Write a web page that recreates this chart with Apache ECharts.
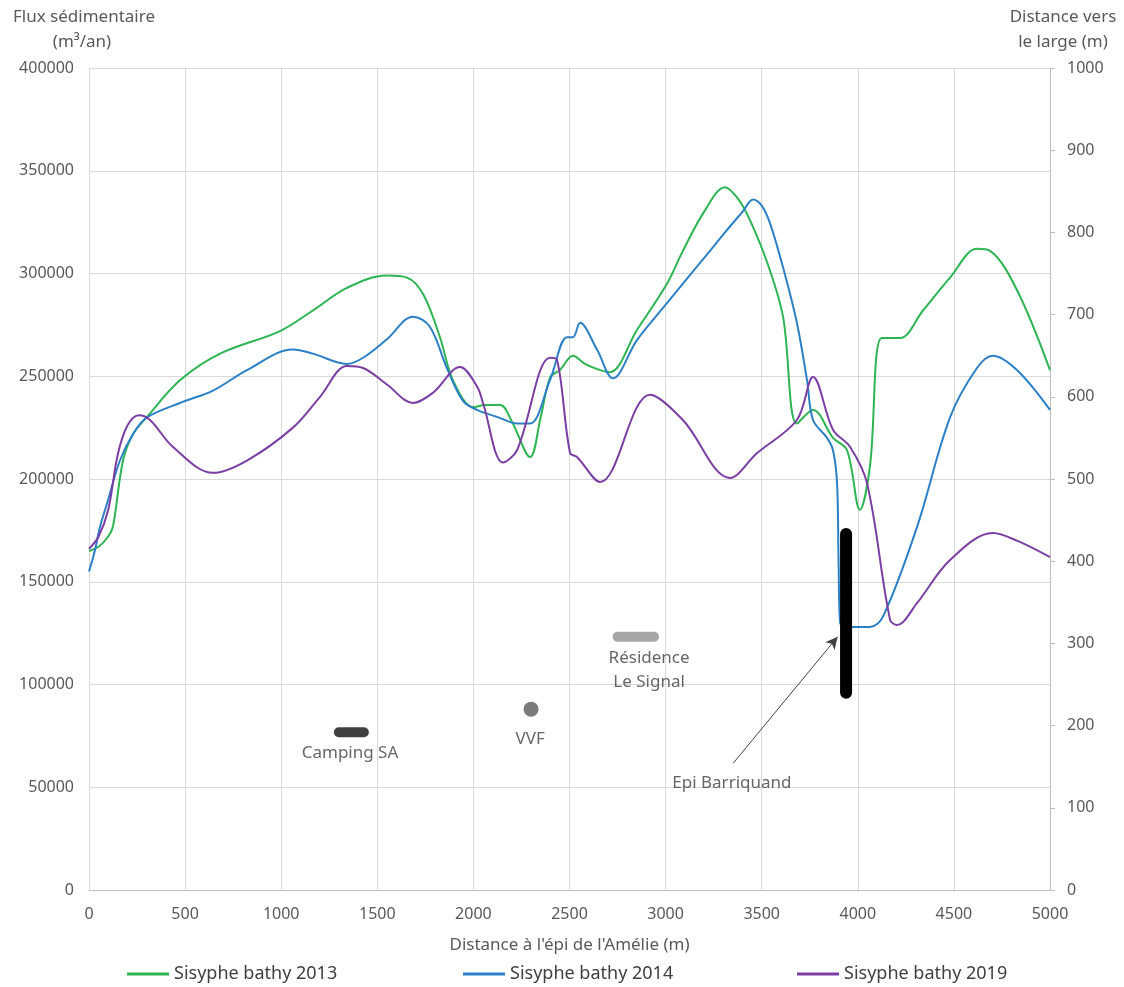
<!DOCTYPE html>
<html><head><meta charset="utf-8">
<script src="https://cdn.jsdelivr.net/npm/echarts@6/dist/echarts.min.js"></script>
<style>html,body{margin:0;padding:0;background:#fff}#c{width:1124px;height:987px}</style>
</head><body><div id="c"></div>
<script>
// Data
const bathy2013 = [[0,165000],[50,167000],[100,172000],[125,177000],[177,209000],[230,222000],[300,230000],[473,248000],[682,261000],[994,272000],[1165,282000],[1342,293000],[1550,299000],[1654,298000],[1738,290000],[1826,269000],[1894,248000],[2000,235000],[2060,236000],[2140,236000],[2200,228000],[2295,210700],[2350,230000],[2400,249600],[2450,253000],[2518,260000],[2580,256000],[2659,253000],[2710,252000],[2851,272500],[3007,295000],[3090,311000],[3200,330000],[3309,342000],[3380,336000],[3439,326000],[3530,305000],[3611,279000],[3683,227000],[3767,233600],[3871,220000],[3944,214000],[4011,185000],[4063,206000],[4125,268600],[4219,268600],[4339,282000],[4480,298000],[4620,312000],[4688,311000],[4828,292000],[5000,253000]];
const bathy2014 = [[0,155000],[30,165000],[57,176600],[100,190000],[161,209000],[230,222000],[302,230000],[473,237000],[645,243000],[822,253000],[1061,263000],[1165,261000],[1342,256000],[1426,259000],[1550,268000],[1686,279000],[1774,274000],[1862,254000],[1946,238000],[2019,233600],[2130,230000],[2227,227000],[2294,227000],[2398,248000],[2487,269000],[2518,269000],[2555,276000],[2643,263000],[2726,249000],[2851,267600],[3007,285600],[3231,311000],[3309,320000],[3400,330000],[3455,336000],[3500,333000],[3543,324500],[3611,303000],[3683,276000],[3736,248000],[3767,228700],[3840,220000],[3871,214000],[3892,198000],[3900,160000],[3908,130000],[3960,128000],[4063,128000],[4131,133000],[4308,176600],[4480,230000],[4620,254000],[4703,260000],[4828,253000],[5000,233600]];
const bathy2019 = [[0,166000],[50,172000],[100,185000],[150,212000],[200,226000],[260,231000],[320,228500],[437,215600],[645,203000],[822,209000],[1061,225000],[1202,240000],[1342,255000],[1426,254000],[1550,246000],[1686,237000],[1790,242000],[1930,254500],[2019,245000],[2050,237000],[2154,208000],[2227,214000],[2398,259000],[2435,258000],[2503,212600],[2539,210700],[2659,198500],[2919,241000],[3090,228700],[3335,200500],[3476,212600],[3683,228700],[3767,249600],[3871,224000],[3960,215600],[4048,198000],[4168,131400],[4204,129000],[4308,139600],[4480,160600],[4703,173700],[4828,170000],[5000,162000]];
// Landmarks (x along shore in m, y = distance offshore in m, right axis)
const campingSA = [[1300,192],[1430,192]];
const vvf = [[2300,220]];
const residence = [[2750,308],[2940,308]];
const epiBarriquand = [[3939,433],[3939,240]];
const arrowFrom = [3351,154];
const arrowTo = [3895,308];
const labels = [
  {name:'Camping SA', value:[1358,166]},
  {name:'VVF', value:[2295,184]},
  {name:'Résidence\nLe Signal', value:[2914,268]},
  {name:'Epi Barriquand', value:[3345,130]}
];

const txt = '#595959';
const font = 'Noto Sans';
const chart = echarts.init(document.getElementById('c'));
const legendBase = {top:960, itemWidth:42, itemHeight:3, icon:'rect', textStyle:{fontFamily:font,fontSize:18,color:'#404040'}, itemGap:4};
chart.setOption({
  animation:false,
  textStyle:{fontFamily:font},
  grid:{left:89,right:74,top:68,bottom:97},
  legend:[
    Object.assign({left:122,data:['Sisyphe bathy 2013']},legendBase),
    Object.assign({left:458,data:['Sisyphe bathy 2014']},legendBase),
    Object.assign({left:792,data:['Sisyphe bathy 2019']},legendBase)
  ],
  graphic:[
    {type:'text',style:{x:84,y:17,text:'Flux sédimentaire',font:'17px Noto Sans',fill:txt,textAlign:'center',textVerticalAlign:'middle'}},
    {type:'text',style:{x:82,y:42,text:'(m³/an)',font:'17px Noto Sans',fill:txt,textAlign:'center',textVerticalAlign:'middle'}},
    {type:'text',style:{x:1063,y:17,text:'Distance vers',font:'17px Noto Sans',fill:txt,textAlign:'center',textVerticalAlign:'middle'}},
    {type:'text',style:{x:1063,y:42,text:'le large (m)',font:'17px Noto Sans',fill:txt,textAlign:'center',textVerticalAlign:'middle'}}
  ],
  xAxis:{type:'value',min:0,max:5000,interval:500,
    name:"Distance à l'épi de l'Amélie (m)",nameLocation:'middle',nameGap:47,
    nameTextStyle:{fontFamily:font,fontSize:17,color:txt},
    axisLine:{lineStyle:{color:'#bfbfbf'}},axisTick:{show:false},
    axisLabel:{color:txt,fontSize:16,margin:16,formatter:v=>String(v)},
    splitLine:{lineStyle:{color:'#d9d9d9'}}},
  yAxis:[
    {type:'value',min:0,max:400000,interval:50000,
     axisLine:{show:true,lineStyle:{color:'#d9d9d9'}},axisTick:{show:false},
     axisLabel:{color:txt,fontSize:16,margin:15,formatter:v=>String(v)},
     splitLine:{lineStyle:{color:'#d9d9d9'}}},
    {type:'value',min:0,max:1000,interval:100,position:'right',
     axisLine:{show:true,lineStyle:{color:'#bfbfbf'}},
     axisTick:{show:true,length:5,lineStyle:{color:'#bfbfbf'}},
     axisLabel:{color:txt,fontSize:16,margin:17,formatter:v=>String(v)},
     splitLine:{show:false}}
  ],
  series:[
    {name:'Sisyphe bathy 2013',type:'line',data:bathy2013,smooth:0.35,showSymbol:false,symbol:'none',lineStyle:{width:2,color:'#2db553'},itemStyle:{color:'#2db553'},z:3},
    {name:'Sisyphe bathy 2014',type:'line',data:bathy2014,smooth:0.35,showSymbol:false,symbol:'none',lineStyle:{width:2,color:'#2b80c6'},itemStyle:{color:'#2b80c6'},z:3},
    {name:'Sisyphe bathy 2019',type:'line',data:bathy2019,smooth:0.35,showSymbol:false,symbol:'none',lineStyle:{width:2,color:'#7b3ea3'},itemStyle:{color:'#7b3ea3'},z:3},
    {type:'line',yAxisIndex:1,data:campingSA,symbol:'none',lineStyle:{width:10,color:'#404040',cap:'round'},z:4},
    {type:'scatter',yAxisIndex:1,data:vvf,symbolSize:15,itemStyle:{color:'#595959'},z:4},
    {type:'line',yAxisIndex:1,data:residence,symbol:'none',lineStyle:{width:10,color:'#a6a6a6',cap:'round'},z:4},
    {type:'line',yAxisIndex:1,data:epiBarriquand,symbol:'none',lineStyle:{width:12,color:'#000',cap:'round'},z:5,
     markLine:{silent:true,symbol:['none','arrow'],symbolSize:[9,12],label:{show:false},
       lineStyle:{type:'solid',width:1,color:'#404040'},
       data:[[{coord:arrowFrom},{coord:arrowTo}]]}},
    {type:'scatter',yAxisIndex:1,data:labels,symbolSize:0,
     label:{show:true,formatter:p=>p.name,color:'#404040',fontSize:17,fontFamily:font,lineHeight:24,align:'center'},z:6}
  ]
});
</script></body></html>
